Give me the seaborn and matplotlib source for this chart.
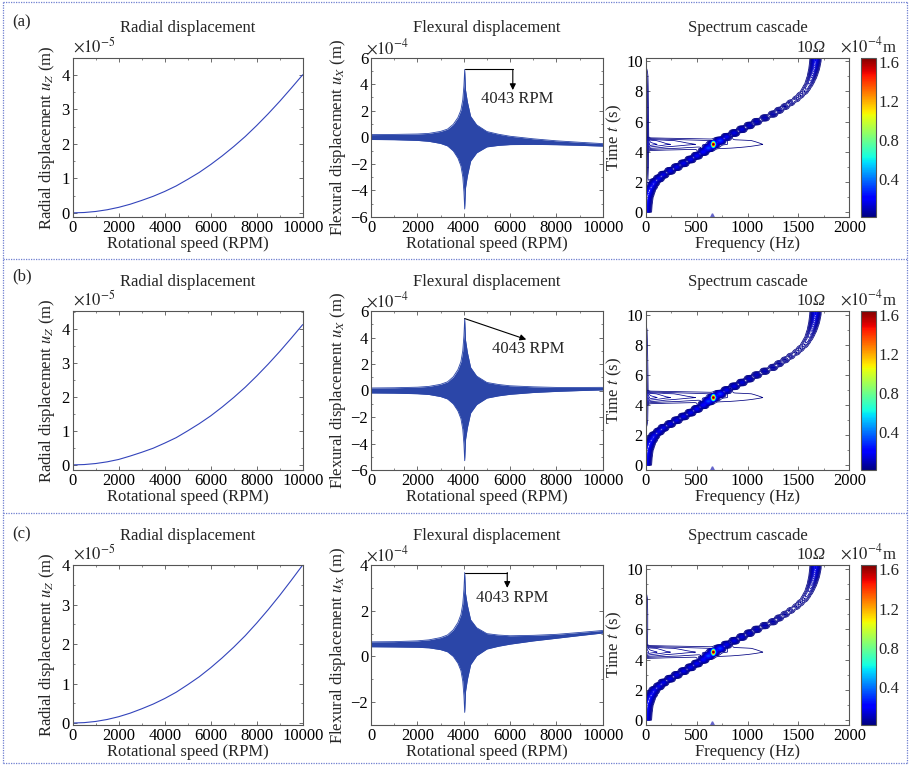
import numpy as np
import matplotlib
matplotlib.use("Agg")
import matplotlib.pyplot as plt
import seaborn as sns
from matplotlib.ticker import MultipleLocator, AutoMinorLocator
from matplotlib.lines import Line2D
from matplotlib.colors import Normalize
from matplotlib.cm import ScalarMappable

# ---------------- data ----------------
# radial displacement (x1e-5 m) vs rotational speed
rpm = [0, 500, 1000, 1500, 2000, 2500, 3000, 3500, 4000, 4500, 5000,
       5500, 6000, 6500, 7000, 7500, 8000, 8500, 9000, 9500, 10000]
radial_a = [0, 0.01, 0.04, 0.09, 0.16, 0.25, 0.36, 0.48, 0.62, 0.78, 0.97,
            1.17, 1.40, 1.65, 1.92, 2.21, 2.53, 2.87, 3.23, 3.61, 4.00]
radial_b = [0, 0.01, 0.04, 0.09, 0.16, 0.26, 0.37, 0.49, 0.64, 0.80, 1.00,
            1.21, 1.44, 1.70, 1.98, 2.28, 2.61, 2.96, 3.33, 3.72, 4.12]
radial_c = [0, 0.01, 0.04, 0.09, 0.16, 0.25, 0.36, 0.48, 0.62, 0.78, 0.97,
            1.17, 1.40, 1.65, 1.92, 2.21, 2.53, 2.87, 3.23, 3.61, 4.00]

# flexural displacement envelope (x1e-4 m)
env_rpm = [0, 1000, 2000, 2500, 3000, 3300, 3550, 3750, 3880, 3960, 4010, 4043,
           4080, 4160, 4300, 4560, 5000, 5500, 6000, 7000, 8000, 9000, 10000]
env_shape = [0.035, 0.038, 0.046, 0.057, 0.086, 0.12, 0.19, 0.29, 0.40, 0.55, 0.76, 1.0,
             0.70, 0.53, 0.32, 0.2, 0.11, 0.08, 0.06, 0.04, 0.028, 0.022, 0.018]
center_a = [0.02, 0.02, 0.01, 0.0, 0.0, 0.0, 0.0, 0.0, 0.0, 0.0, 0.0, 0.0,
            -0.02, -0.04, -0.06, -0.09, -0.13, -0.18, -0.23, -0.32, -0.41, -0.49, -0.57]
center_b = [0.0, 0.0, 0.0, 0.0, 0.0, 0.0, 0.0, 0.0, 0.0, 0.0, 0.0, 0.0,
            0.0, 0.0, 0.0, 0.0, 0.01, 0.02, 0.03, 0.06, 0.08, 0.11, 0.14]
center_c = [0.53, 0.53, 0.54, 0.55, 0.56, 0.57, 0.58, 0.59, 0.6, 0.6, 0.6, 0.6,
            0.6, 0.61, 0.62, 0.64, 0.66, 0.69, 0.72, 0.80, 0.88, 0.98, 1.08]
peak_up = [5.1, 5.43, 3.07]
peak_dn = [5.4, 5.3, 3.05]
peak_rpm = 4043

# annotation arrow ends and label positions (rpm, x1e-4 m)
arrow_end_a = [6120, 3.55]
arrow_end_b = [6700, 3.85]
arrow_end_c = [5880, 3.0]
label_pos_a = [6300, 2.9]
label_pos_b = [6800, 3.15]
label_pos_c = [6100, 2.55]

# spectrum cascade: 10-Omega ridge (time s -> frequency Hz) and its amplitude (x1e-4 m)
ridge_t = [0, 0.5, 1, 1.5, 2, 2.5, 3, 3.5, 4, 4.5, 5, 5.5, 6, 6.5, 7, 7.5, 8, 8.5, 9, 9.5, 10, 10.3]
ridge_f = [0, 5, 15, 40, 85, 175, 305, 440, 566, 665, 795, 945, 1090, 1250, 1370, 1480,
           1560, 1605, 1635, 1655, 1667, 1669]
ridge_a = [0.2, 0.2, 0.2, 0.2, 0.18, 0.17, 0.17, 0.18, 0.22, 0.4, 0.18, 0.15, 0.12, 0.09,
           0.065, 0.05, 0.05, 0.06, 0.09, 0.13, 0.17, 0.17]
peak_f = 665
peak_t = 4.5
peak_amp = 1.25
# broadband resonance component
bb_f = [0, 200, 400, 600, 800, 1000, 1150, 1300]
bb_a = [0.07, 0.05, 0.04, 0.033, 0.026, 0.02, 0.015, 0.0]
bb_t = [4.25, 4.5, 4.75]
bb_w = [0.6, 1.0, 0.8]
# low-frequency component near 0 Hz
dc_t = [0, 1, 2, 3, 4, 5, 6, 7, 8, 9, 10]
dc_a = [0, 0, 0.03, 0.05, 0.06, 0.07, 0.06, 0.05, 0.045, 0.035, 0.0]
dc_b = [0, 0, 0, 0.03, 0.035, 0.04, 0.035, 0.03, 0.025, 0.02, 0.0]
dc_c = [0, 0, 0, 0, 0, 0.025, 0.03, 0.03, 0.025, 0.0, 0.0]
artifact_f = [650]
artifact_t = [-0.2]

# ---------------- style ----------------
sns.set_theme(style="ticks")
plt.rcParams["font.family"] = ["Liberation Serif", "DejaVu Serif"]
plt.rcParams["mathtext.fontset"] = "stix"
plt.rcParams["font.size"] = 12
plt.rcParams["axes.edgecolor"] = "#555555"
plt.rcParams["axes.linewidth"] = 0.8

FS = 12
fill_col = "#2B46A8"
line_col = "#3344BB"

fig = plt.figure(figsize=(9.1, 7.65), dpi=100)


def style_ax(ax):
    ax.tick_params(which="both", direction="in", top=True, right=True,
                   labelsize=FS, pad=2, colors="#555555", labelcolor="black")
    ax.tick_params(which="major", length=3, width=0.6)
    ax.tick_params(which="minor", length=1.5, width=0.5)
    ax.xaxis.set_minor_locator(AutoMinorLocator(2))
    ax.yaxis.set_minor_locator(AutoMinorLocator(2))


row_bottom = [1 - 217 / 765, 1 - 470 / 765, 1 - 725 / 765]
row_height = [159.5 / 765, 159 / 765, 160 / 765]
panel_tag = ["(a)", "(b)", "(c)"]
tag_y = [22, 276, 534]
radials = [radial_a, radial_b, radial_c]
radial_ylim = [(-0.12, 4.5), (-0.15, 4.52), (-0.05, 4.0)]
centers = [center_a, center_b, center_c]
flex_ylim = [(-6, 6), (-6, 6), (-3, 4)]
flex_ticks = [range(-6, 7, 2), range(-6, 7, 2), range(-2, 5, 2)]
arrow_ends = [arrow_end_a, arrow_end_b, arrow_end_c]
label_pos = [label_pos_a, label_pos_b, label_pos_c]
arrow_kind = ["elbow", "straight", "elbow"]
dcs = [dc_a, dc_b, dc_c]

# spectrum grid (frames every 0.25 s)
frame_t = np.arange(0, 10.5, 0.25)
freq = np.linspace(0, 2000, 801)
rf = np.interp(frame_t, ridge_t, ridge_f)
ra = np.interp(frame_t, ridge_t, ridge_a)
base_Z = ra[:, None] * np.exp(-((freq[None, :] - rf[:, None]) / 36.0) ** 2)
k_peak = np.argmin(np.abs(frame_t - peak_t))
base_Z[k_peak] += peak_amp * np.exp(-((freq - peak_f) / 12.0) ** 2)
bb_profile = np.interp(freq, bb_f, bb_a)
for t_b, w_b in zip(bb_t, bb_w):
    k = np.argmin(np.abs(frame_t - t_b))
    base_Z[k] += w_b * bb_profile
levels = np.linspace(0.015, 1.645, 150)
norm = Normalize(0.015, 1.645)

for i in range(3):
    y0, h = row_bottom[i], row_height[i]

    # --- radial displacement ---
    ax1 = fig.add_axes([72.7 / 910, y0, 230 / 910, h])
    sns.lineplot(x=rpm, y=radials[i], ax=ax1, color=line_col, linewidth=0.8)
    ax1.set_xlim(0, 10000)
    ax1.set_ylim(*radial_ylim[i])
    ax1.xaxis.set_major_locator(MultipleLocator(2000))
    ax1.yaxis.set_major_locator(MultipleLocator(1))
    style_ax(ax1)
    ax1.set_title("Radial displacement", fontsize=FS, pad=18)
    ax1.set_xlabel("Rotational speed (RPM)", fontsize=FS, labelpad=0)
    ax1.set_ylabel(r"Radial displacement $u_Z$ (m)", fontsize=FS, labelpad=3)
    ax1.text(0.0, 1.01, r"$\times 10^{-5}$", transform=ax1.transAxes,
             ha="left", va="bottom", fontsize=FS)

    # --- flexural displacement ---
    ax2 = fig.add_axes([371 / 910, y0, 231.7 / 910, h])
    c = np.array(centers[i])
    s = np.array(env_shape)
    upper = c + s * peak_up[i]
    lower = c - s * peak_dn[i]
    ax2.fill_between(env_rpm, lower, upper, color=fill_col, linewidth=0)
    sns.lineplot(x=env_rpm, y=upper, ax=ax2, color=fill_col, linewidth=0.6)
    sns.lineplot(x=env_rpm, y=lower, ax=ax2, color=fill_col, linewidth=0.6)
    ax2.set_xlim(0, 10000)
    ax2.set_ylim(*flex_ylim[i])
    ax2.set_yticks(list(flex_ticks[i]))
    ax2.xaxis.set_major_locator(MultipleLocator(2000))
    style_ax(ax2)
    ax2.set_title("Flexural displacement", fontsize=FS, pad=18)
    ax2.set_xlabel("Rotational speed (RPM)", fontsize=FS, labelpad=0)
    ax2.set_ylabel(r"Flexural displacement $u_X$ (m)", fontsize=FS, labelpad=2)
    ax2.text(-0.02, 1.0, r"$\times 10^{-4}$", transform=ax2.transAxes,
             ha="left", va="bottom", fontsize=FS)
    top = upper.max()
    ex, ey = arrow_ends[i]
    if arrow_kind[i] == "elbow":
        ax2.plot([peak_rpm, ex], [top, top], color="black", linewidth=0.8)
        start = (ex, top)
    else:
        start = (peak_rpm, top)
    ax2.annotate("", xy=(ex, ey), xytext=start,
                 arrowprops=dict(arrowstyle="-|>", color="black", lw=0.8,
                                 mutation_scale=9, shrinkA=0, shrinkB=0))
    ax2.text(label_pos[i][0], label_pos[i][1], "4043 RPM", ha="center",
             va="center", fontsize=FS)

    # --- spectrum cascade ---
    ax3 = fig.add_axes([645.7 / 910, y0, 203.6 / 910, h])
    Z = base_Z + np.interp(frame_t, dc_t, dcs[i])[:, None] * np.exp(-(freq[None, :] / 24.0) ** 2)
    ax3.contour(freq, frame_t, Z, levels=levels, cmap="jet", norm=norm, linewidths=0.55)
    ax3.plot(artifact_f, artifact_t, marker="^", markersize=2.5, color="#6666cc",
             linestyle="none")
    ax3.set_xlim(0, 2000)
    ax3.set_ylim(-0.3, 10.24)
    ax3.xaxis.set_major_locator(MultipleLocator(500))
    ax3.yaxis.set_major_locator(MultipleLocator(2))
    style_ax(ax3)
    ax3.set_title("Spectrum cascade", fontsize=FS, pad=18)
    ax3.set_xlabel("Frequency (Hz)", fontsize=FS, labelpad=0)
    ax3.set_ylabel(r"Time $t$ (s)", fontsize=FS, labelpad=2)
    ax3.text(1640, 10.35, "10", ha="right", va="bottom", fontsize=FS)
    ax3.text(1640, 10.35, "\u03a9", ha="left", va="bottom", fontsize=FS,
             fontstyle="italic")

    cax = fig.add_axes([860.7 / 910, y0, 15.3 / 910, h])
    cb = fig.colorbar(ScalarMappable(norm=norm, cmap="jet"), cax=cax,
                      ticks=[0.4, 0.8, 1.2, 1.6])
    cb.outline.set_edgecolor("#555555")
    cb.outline.set_linewidth(0.8)
    cax.tick_params(direction="in", length=3, labelsize=FS, pad=2)
    cax.text(0.5, 1.01, r"$\times 10^{-4}$m", transform=cax.transAxes,
             ha="center", va="bottom", fontsize=FS)

    fig.text(12 / 910, 1 - tag_y[i] / 765, panel_tag[i], ha="left", va="center",
             fontsize=FS)

# dotted frame lines between the rows
dot_kw = dict(color="#6E7FD0", linewidth=0.9, linestyle=(0, (1, 1)),
              transform=fig.transFigure)
for yy in [2, 259, 513, 763]:
    fig.add_artist(Line2D([3 / 910, 907 / 910], [1 - yy / 765, 1 - yy / 765], **dot_kw))
for xx in [3, 907]:
    fig.add_artist(Line2D([xx / 910, xx / 910], [1 - 2 / 765, 1 - 763 / 765], **dot_kw))

fig.savefig("out.png", dpi=100)
